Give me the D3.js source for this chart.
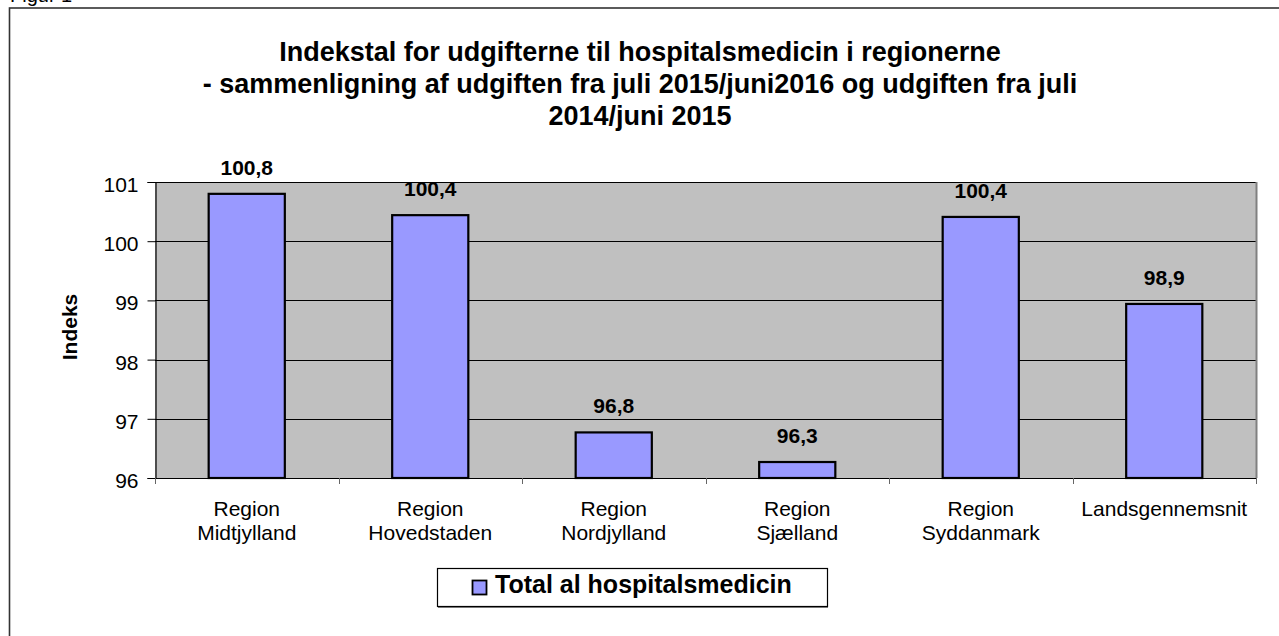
<!DOCTYPE html>
<html>
<head>
<meta charset="utf-8">
<script src="https://cdn.jsdelivr.net/npm/d3@7"></script>
<style>
  body { margin: 0; background: #fff; }
  svg text { font-family: "Liberation Sans", Arial, sans-serif; }
</style>
</head>
<body>
<div id="chart"></div>
<script>
// data
var categories = ["Region Midtjylland", "Region Hovedstaden", "Region Nordjylland", "Region Sjælland", "Region Syddanmark", "Landsgennemsnit"];
var values = [100.8, 100.44, 96.77, 96.27, 100.41, 98.94];
var valueLabels = ["100,8", "100,4", "96,8", "96,3", "100,4", "98,9"];
var yTicks = [96, 97, 98, 99, 100, 101];
var titleLines = [
    "Indekstal for udgifterne til hospitalsmedicin i regionerne",
    "- sammenligning af udgiften fra juli 2015/juni2016 og udgiften fra juli",
    "2014/juni 2015"
];
var seriesName = "Total al hospitalsmedicin";

var width = 1279;
var height = 636;

var plot = { left: 155, right: 1256, top: 182, bottom: 478 };

var svg = d3.select("#chart").append("svg")
    .attr("width", width)
    .attr("height", height);

// "Figur 1" caption, cut off at the top like the source page
svg.append("text")
    .attr("x", 10)
    .attr("y", 1.5)
    .attr("font-size", 20)
    .text("Figur 1");

// outer frame
svg.append("rect")
    .attr("x", 9.5)
    .attr("y", 8)
    .attr("width", width)
    .attr("height", height)
    .attr("fill", "none")
    .attr("stroke", "#333")
    .attr("stroke-width", 1.6);

// title
var title = svg.append("text")
    .attr("text-anchor", "middle")
    .attr("font-size", 27)
    .attr("font-weight", "bold");

titleLines.forEach(function(line, i) {
    title.append("tspan")
        .attr("x", 640)
        .attr("y", 61 + i * 32)
        .text(line);
});

var xScale = d3.scaleBand()
    .domain(categories)
    .range([plot.left, plot.right])
    .paddingInner(0.585)
    .paddingOuter(0.2925);

var yScale = d3.scaleLinear()
    .domain([96, 101])
    .range([plot.bottom, plot.top]);

// plot background
svg.append("rect")
    .attr("x", plot.left)
    .attr("y", plot.top)
    .attr("width", plot.right - plot.left)
    .attr("height", plot.bottom - plot.top)
    .attr("fill", "#c0c0c0");

// gridlines
svg.append("g")
    .selectAll("line")
    .data(yTicks)
    .enter()
    .append("line")
    .attr("x1", plot.left)
    .attr("x2", plot.right)
    .attr("y1", d => Math.round(yScale(d)) + 0.5)
    .attr("y2", d => Math.round(yScale(d)) + 0.5)
    .attr("stroke", "#000")
    .attr("stroke-width", 1.2);

// right edge of plot
svg.append("line")
    .attr("x1", plot.right + 0.5)
    .attr("x2", plot.right + 0.5)
    .attr("y1", plot.top)
    .attr("y2", plot.bottom)
    .attr("stroke", "#808080")
    .attr("stroke-width", 2);

// bars
svg.append("g")
    .selectAll("rect")
    .data(values)
    .enter()
    .append("rect")
    .attr("x", (d, i) => xScale(categories[i]))
    .attr("y", d => yScale(d))
    .attr("width", xScale.bandwidth())
    .attr("height", d => plot.bottom - yScale(d))
    .attr("fill", "#9999ff")
    .attr("stroke", "#000")
    .attr("stroke-width", 2.2);

// value labels
svg.append("g")
    .selectAll("text")
    .data(values)
    .enter()
    .append("text")
    .attr("x", (d, i) => xScale(categories[i]) + xScale.bandwidth() / 2)
    .attr("y", d => yScale(d) - 19)
    .attr("text-anchor", "middle")
    .attr("font-size", 21)
    .attr("font-weight", "bold")
    .text((d, i) => valueLabels[i]);

// y axis
var yAxis = svg.append("g")
    .attr("transform", `translate(${plot.left + 0.5}, 0)`)
    .call(d3.axisLeft(yScale).tickValues(yTicks).tickSize(8).tickPadding(9).tickFormat(d3.format("d")));

yAxis.select(".domain").attr("stroke", "#000").attr("stroke-width", 1.2);
yAxis.selectAll(".tick line").attr("stroke", "#000");
yAxis.selectAll(".tick text")
    .attr("font-size", 21)
    .attr("dy", "0.45em")
    .attr("fill", "#000")
    .style("font-family", "Liberation Sans, Arial, sans-serif");

// x axis line and tick marks at band boundaries
var boundaries = d3.range(categories.length + 1).map(i => plot.left + i * (plot.right - plot.left) / categories.length);

svg.append("line")
    .attr("x1", plot.left)
    .attr("x2", plot.right)
    .attr("y1", plot.bottom + 0.5)
    .attr("y2", plot.bottom + 0.5)
    .attr("stroke", "#000")
    .attr("stroke-width", 1.2);

svg.append("g")
    .selectAll("line")
    .data(boundaries)
    .enter()
    .append("line")
    .attr("x1", d => Math.round(d) + 0.5)
    .attr("x2", d => Math.round(d) + 0.5)
    .attr("y1", plot.bottom)
    .attr("y2", plot.bottom + 6)
    .attr("stroke", "#666");

// category labels, wrapped on two lines
var catLabels = svg.append("g")
    .selectAll("text")
    .data(categories)
    .enter()
    .append("text")
    .attr("text-anchor", "middle")
    .attr("font-size", 21);

catLabels.each(function(d) {
    var cx = xScale(d) + xScale.bandwidth() / 2;
    var parts = d.split(" ");
    var sel = d3.select(this);
    parts.forEach(function(p, i) {
        sel.append("tspan")
            .attr("x", cx)
            .attr("y", 516 + i * 24)
            .text(p);
    });
});

// y axis title
svg.append("text")
    .attr("transform", "translate(77, 327) rotate(-90)")
    .attr("text-anchor", "middle")
    .attr("font-size", 21)
    .attr("font-weight", "bold")
    .text("Indeks");

// legend
var legend = svg.append("g")
    .attr("transform", "translate(437, 568)");

legend.append("rect")
    .attr("x", 0.5)
    .attr("y", 0.5)
    .attr("width", 390)
    .attr("height", 38)
    .attr("fill", "#fff")
    .attr("stroke", "#000")
    .attr("stroke-width", 1.2);

legend.append("line")
    .attr("x1", 1)
    .attr("x2", 391)
    .attr("y1", 39.5)
    .attr("y2", 39.5)
    .attr("stroke", "#777");

legend.append("rect")
    .attr("x", 35.5)
    .attr("y", 12.5)
    .attr("width", 14)
    .attr("height", 14)
    .attr("fill", "#9999ff")
    .attr("stroke", "#000")
    .attr("stroke-width", 1.8);

legend.append("text")
    .attr("x", 58)
    .attr("y", 25)
    .attr("font-size", 25)
    .attr("font-weight", "bold")
    .text(seriesName);
</script>
</body>
</html>
